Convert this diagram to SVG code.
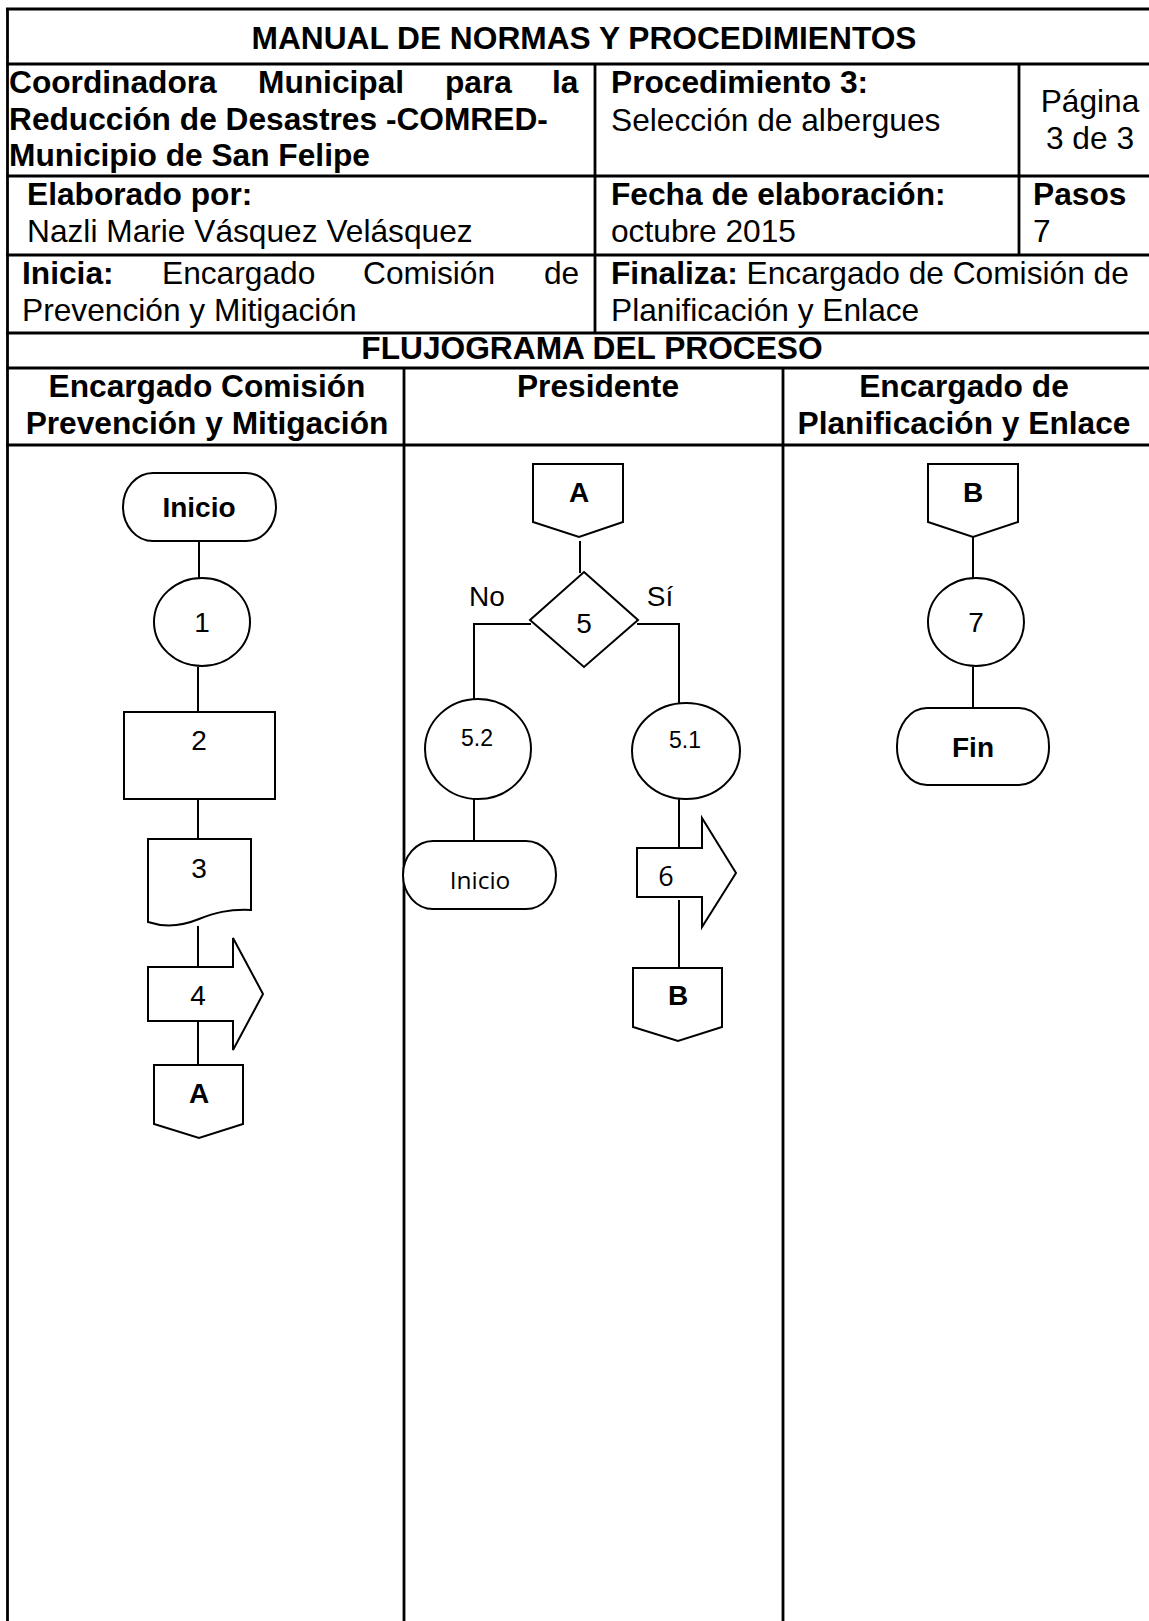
<svg xmlns="http://www.w3.org/2000/svg" width="1149" height="1621" viewBox="0 0 1149 1621">
<style>
.tl{stroke:#000;stroke-width:2.8;fill:none}
.sh{stroke:#000;stroke-width:2;fill:#fff}
.cn{stroke:#000;stroke-width:2;fill:none}
text{font-family:"Liberation Sans",Arial,sans-serif;fill:#000}
.hb{font-size:31.7px;font-weight:bold}
.hr{font-size:31.7px}
.ft{font-size:28px;text-anchor:middle}
.fb{font-size:28px;font-weight:bold;text-anchor:middle}
.fs{font-size:23px;text-anchor:middle}
.cal{font-family:"Open Sans","Noto Sans",sans-serif}
</style>
<rect width="1149" height="1621" fill="#fff"/>
<g id="table">
<line class="tl" x1="7.5" y1="9" x2="7.5" y2="1621"/>
<line class="tl" x1="6" y1="9" x2="1149" y2="9"/>
<line class="tl" x1="6" y1="64" x2="1149" y2="64"/>
<line class="tl" x1="6" y1="176" x2="1149" y2="176"/>
<line class="tl" x1="6" y1="255" x2="1149" y2="255"/>
<line class="tl" x1="6" y1="333" x2="1149" y2="333"/>
<line class="tl" x1="6" y1="368" x2="1149" y2="368"/>
<line class="tl" x1="6" y1="445" x2="1149" y2="445"/>
<line class="tl" x1="595" y1="64" x2="595" y2="333"/>
<line class="tl" x1="1019" y1="64" x2="1019" y2="255"/>
<line class="tl" x1="404" y1="368" x2="404" y2="1621"/>
<line class="tl" x1="783" y1="368" x2="783" y2="1621"/>
</g>
<g id="header-text">
<text class="hb" x="584" y="49" text-anchor="middle">MANUAL DE NORMAS Y PROCEDIMIENTOS</text>
<text class="hb" y="93"><tspan x="9">Coordinadora</tspan><tspan x="258">Municipal</tspan><tspan x="445">para</tspan><tspan x="552">la</tspan></text>
<text class="hb" x="9" y="130">Reducción de Desastres -COMRED-</text>
<text class="hb" x="9" y="166">Municipio de San Felipe</text>
<text class="hb" x="611" y="93">Procedimiento 3:</text>
<text class="hr" x="611" y="131">Selección de albergues</text>
<text class="hr" x="1090" y="112" text-anchor="middle">Página</text>
<text class="hr" x="1090" y="149" text-anchor="middle">3 de 3</text>
<text class="hb" x="27" y="205">Elaborado por:</text>
<text class="hr" x="27" y="242">Nazli Marie Vásquez Velásquez</text>
<text class="hb" x="611" y="205">Fecha de elaboración:</text>
<text class="hr" x="611" y="242">octubre 2015</text>
<text class="hb" x="1033" y="205">Pasos</text>
<text class="hr" x="1033" y="242">7</text>
<text class="hr" y="284"><tspan x="22" font-weight="bold">Inicia:</tspan><tspan x="162">Encargado</tspan><tspan x="363">Comisión</tspan><tspan x="544">de</tspan></text>
<text class="hr" x="22" y="321">Prevención y Mitigación</text>
<text class="hr" x="611" y="284"><tspan font-weight="bold">Finaliza:</tspan> Encargado de Comisión de</text>
<text class="hr" x="611" y="321">Planificación y Enlace</text>
<text class="hb" x="592" y="359" text-anchor="middle">FLUJOGRAMA DEL PROCESO</text>
<text class="hb" x="207" y="397" text-anchor="middle">Encargado Comisión</text>
<text class="hb" x="207" y="434" text-anchor="middle">Prevención y Mitigación</text>
<text class="hb" x="598" y="397" text-anchor="middle">Presidente</text>
<text class="hb" x="964" y="397" text-anchor="middle">Encargado de</text>
<text class="hb" x="964" y="434" text-anchor="middle">Planificación y Enlace</text>
</g>
<g id="connectors">
<line class="cn" x1="199" y1="541" x2="199" y2="578"/>
<line class="cn" x1="198" y1="667" x2="198" y2="712"/>
<line class="cn" x1="198" y1="799" x2="198" y2="839"/>
<line class="cn" x1="198" y1="926" x2="198" y2="967"/>
<line class="cn" x1="198" y1="1021" x2="198" y2="1065"/>
<line class="cn" x1="580" y1="541" x2="580" y2="573"/>
<polyline class="cn" points="531,624 474,624 474,699"/>
<polyline class="cn" points="637,624 679,624 679,703"/>
<line class="cn" x1="474" y1="799" x2="474" y2="841"/>
<line class="cn" x1="679" y1="799" x2="679" y2="849"/>
<line class="cn" x1="679" y1="900" x2="679" y2="968"/>
<line class="cn" x1="973" y1="537" x2="973" y2="578"/>
<line class="cn" x1="973" y1="667" x2="973" y2="708"/>
</g>
<g id="n-inicio">
<rect class="sh" x="123" y="473" width="153" height="68" rx="30" ry="34"/>
<text class="fb" x="199" y="517" font-size="27">Inicio</text>
</g>
<g id="n-1">
<ellipse class="sh" cx="202" cy="622" rx="48" ry="44"/>
<text class="ft" x="202" y="632">1</text>
</g>
<g id="n-2">
<rect class="sh" x="124" y="712" width="151" height="87"/>
<text class="ft" x="199" y="750">2</text>
</g>
<g id="n-3">
<path class="sh" d="M148,839 H251 V910 C228,909 214,913 199,919 C182,926 166,928 148,922 Z"/>
<text class="ft" x="199" y="878">3</text>
</g>
<g id="n-4">
<polygon class="sh" points="148,967 233,967 233,938 263,994 233,1050 233,1021 148,1021"/>
<text class="ft" x="198" y="1005">4</text>
</g>
<g id="n-a1">
<polygon class="sh" points="154,1065 243,1065 243,1124 199,1138 154,1124"/>
<text class="fb" x="199" y="1103">A</text>
</g>
<g id="n-a2">
<polygon class="sh" points="533,464 623,464 623,522 579,537 533,522"/>
<text class="fb" x="579" y="502">A</text>
</g>
<g id="n-5">
<polygon class="sh" points="584,572 638,620 584,667 530,620"/>
<text class="ft" x="584" y="633">5</text>
<text class="ft" x="487" y="606">No</text>
<text class="ft" x="660" y="606">Sí</text>
</g>
<g id="n-52">
<ellipse class="sh" cx="478" cy="749" rx="53" ry="50"/>
<text class="fs" x="477" y="746">5.2</text>
</g>
<g id="n-51">
<ellipse class="sh" cx="686" cy="751" rx="54" ry="48"/>
<text class="fs" x="685" y="748">5.1</text>
</g>
<g id="n-inicio2">
<rect class="sh" x="403" y="841" width="153" height="68" rx="30" ry="34"/>
<text class="cal" x="480" y="889" font-size="24.5" text-anchor="middle">Inicio</text>
</g>
<g id="n-6">
<polygon class="sh" points="637,848 702,848 702,818 736,873 702,927 702,897 637,897"/>
<text class="cal" x="666" y="886" font-size="27" text-anchor="middle">6</text>
</g>
<g id="n-b1">
<polygon class="sh" points="633,968 722,968 722,1027 678,1041 633,1027"/>
<text class="fb" x="678" y="1005">B</text>
</g>
<g id="n-b2">
<polygon class="sh" points="928,464 1018,464 1018,522 973,537 928,522"/>
<text class="fb" x="973" y="502">B</text>
</g>
<g id="n-7">
<ellipse class="sh" cx="976" cy="622" rx="48" ry="44"/>
<text class="ft" x="976" y="632">7</text>
</g>
<g id="n-fin">
<rect class="sh" x="897" y="708" width="152" height="77" rx="30" ry="38"/>
<text class="fb" x="973" y="757">Fin</text>
</g>
</svg>
